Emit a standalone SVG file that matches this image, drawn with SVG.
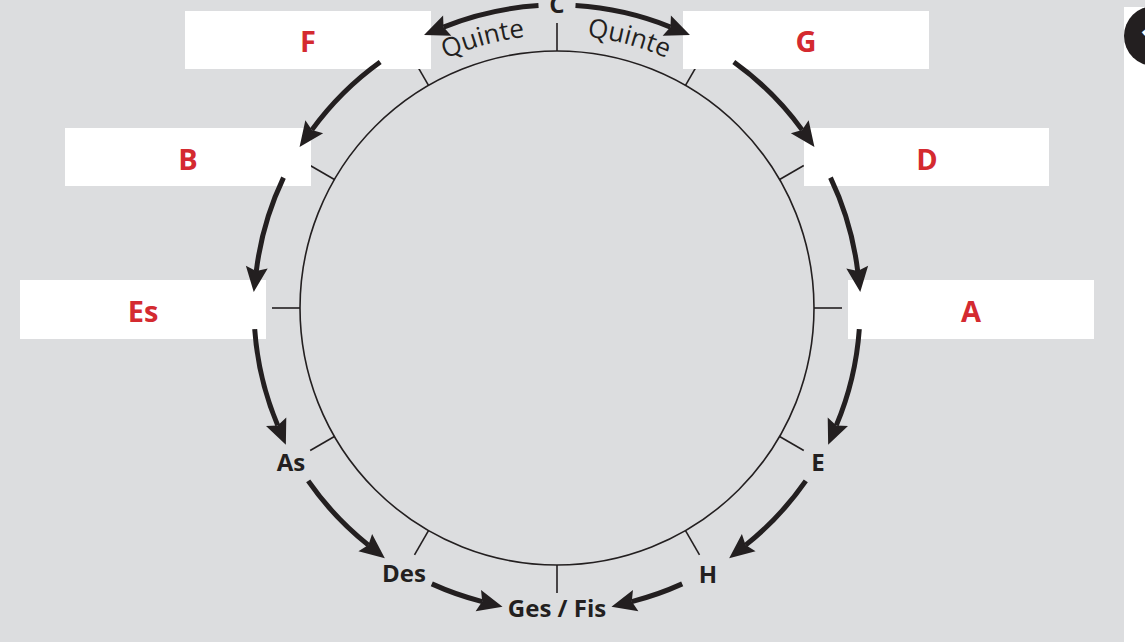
<svg xmlns="http://www.w3.org/2000/svg" width="1145" height="642" viewBox="0 0 1145 642">
<style>
.box{fill:#ffffff}
.red{font-family:"Open Sans","Liberation Sans",sans-serif;font-weight:bold;font-size:29px;fill:#d42a30;text-anchor:middle}
.lbl{font-family:"Open Sans","Liberation Sans",sans-serif;font-weight:bold;font-size:24px;fill:#231f20;text-anchor:middle}
.q{font-family:"Open Sans","Liberation Sans",sans-serif;font-size:26px;fill:#231f20;text-anchor:middle}
.tick{stroke:#231f20;stroke-width:1.6;fill:none}
.arr{stroke:#231f20;stroke-width:5;fill:none;marker-end:url(#head)}
</style>
<defs>
<marker id="head" viewBox="-1 -12 28 24" markerUnits="userSpaceOnUse" markerWidth="28" markerHeight="24" refX="4" refY="0" orient="auto">
<path d="M0,-11 L25,0 L0,11 L4,0 Z" fill="#231f20"/>
</marker>
<path id="qarc" d="M284,308 A273,273 0 0 1 830,308"/>
</defs>
<rect x="0" y="0" width="1145" height="642" fill="#dcdddf"/>
<rect x="1124" y="7" width="21" height="635" fill="#ffffff"/>
<circle cx="1154" cy="36" r="30" fill="#231f20"/>
<text x="1151" y="53" font-family="Open Sans, Liberation Sans, sans-serif" font-weight="bold" font-size="40" fill="#ffffff" text-anchor="middle">1</text>

<g id="wheel">
<circle cx="557" cy="308" r="257" class="tick"/>
<g class="tick">
<line x1="557" y1="51" x2="557" y2="23"/>
<line x1="685.5" y1="85.4" x2="699.5" y2="61.2"/>
<line x1="779.6" y1="179.5" x2="803.8" y2="165.5"/>
<line x1="814" y1="308" x2="842" y2="308"/>
<line x1="779.6" y1="436.5" x2="803.8" y2="450.5"/>
<line x1="685.5" y1="530.6" x2="699.5" y2="554.8"/>
<line x1="557" y1="565" x2="557" y2="593"/>
<line x1="428.5" y1="530.6" x2="414.5" y2="554.8"/>
<line x1="334.4" y1="436.5" x2="310.2" y2="450.5"/>
<line x1="300" y1="308" x2="272" y2="308"/>
<line x1="334.4" y1="179.5" x2="310.2" y2="165.5"/>
<line x1="428.5" y1="85.4" x2="414.5" y2="61.2"/>
</g>
</g>

<g id="node-F"><rect class="box" x="185" y="11" width="246" height="58"/><text class="red" x="308" y="52">F</text></g>
<g id="node-G"><rect class="box" x="683" y="11" width="246" height="58"/><text class="red" x="806" y="52">G</text></g>
<g id="node-B"><rect class="box" x="65" y="128" width="246" height="58"/><text class="red" x="188" y="170">B</text></g>
<g id="node-D"><rect class="box" x="804" y="128" width="245" height="58"/><text class="red" x="927" y="170">D</text></g>
<g id="node-Es"><rect class="box" x="20" y="280" width="246" height="59"/><text class="red" x="143" y="322">Es</text></g>
<g id="node-A"><rect class="box" x="848" y="280" width="246" height="59"/><text class="red" x="971" y="322">A</text></g>
<g id="node-C"><text class="lbl" x="557" y="13">C</text></g>
<g id="node-E"><text class="lbl" x="818" y="471">E</text></g>
<g id="node-H"><text class="lbl" x="708" y="583">H</text></g>
<g id="node-GesFis"><text class="lbl" x="557" y="617">Ges / Fis</text></g>
<g id="node-Des"><text class="lbl" x="404" y="582">Des</text></g>
<g id="node-As"><text class="lbl" x="291" y="471">As</text></g>

<g id="quinte-labels">
<text class="q"><textPath href="#qarc" startOffset="355">Quinte</textPath></text>
<text class="q"><textPath href="#qarc" startOffset="500">Quinte</textPath></text>
</g>

<g id="connectors">
<path class="arr" d="M538.5,5.6 A303,303 0 0 0 443.5,27.1"/>
<path class="arr" d="M575.5,5.6 A303,303 0 0 1 670.5,27.1"/>
<path class="arr" d="M733.8,62 A303,303 0 0 1 802.1,129.9"/>
<path class="arr" d="M830.5,177.6 A303,303 0 0 1 857.7,271.1"/>
<path class="arr" d="M859.3,329.1 A303,303 0 0 1 836.3,425.4"/>
<path class="arr" d="M805.8,480.9 A303,303 0 0 1 745.6,545.1"/>
<path class="arr" d="M682.2,583.9 A303,303 0 0 1 631.8,601.6"/>
<path class="arr" d="M431.8,583.9 A303,303 0 0 0 482.2,601.6"/>
<path class="arr" d="M308.2,480.9 A303,303 0 0 0 368.4,545.1"/>
<path class="arr" d="M254.7,329.1 A303,303 0 0 0 277.7,425.4"/>
<path class="arr" d="M283.5,177.6 A303,303 0 0 0 256.3,271.1"/>
<path class="arr" d="M380.2,62 A303,303 0 0 0 311.9,129.9"/>
</g>
</svg>
